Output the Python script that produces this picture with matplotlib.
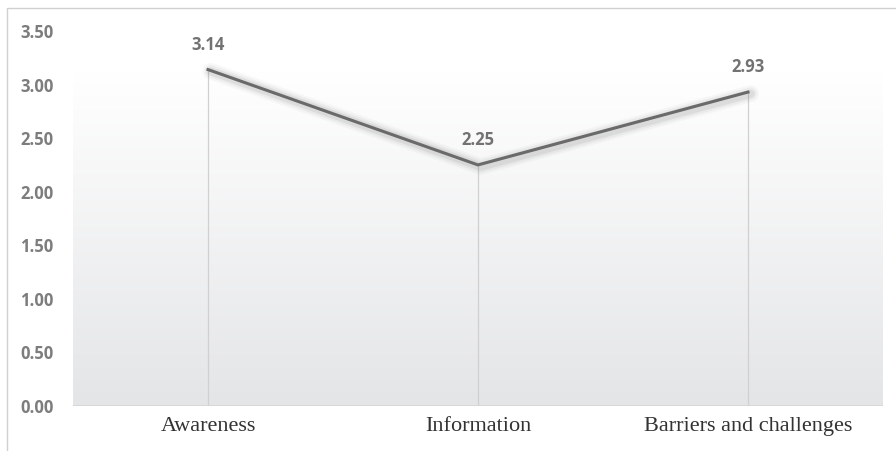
import numpy as np
import matplotlib.pyplot as plt
from matplotlib.patches import Rectangle

categories = ["Awareness", "Information", "Barriers and challenges"]
scores = [3.14, 2.25, 2.93]
yticks = [0.0, 0.5, 1.0, 1.5, 2.0, 2.5, 3.0, 3.5]

fig = plt.figure(figsize=(8.96, 4.51), dpi=100)
ax = fig.add_axes([73 / 896, 1 - 406 / 451, 810 / 896, 375 / 451])

x = np.arange(len(categories))
ax.set_xlim(-0.5, len(categories) - 0.5)

# gradient plot area, white at top to light grey at the baseline
grad = np.linspace(0, 1, 256).reshape(-1, 1)
top = np.array([1.0, 1.0, 1.0])
bot = np.array([0.894, 0.898, 0.906])
img = top + (bot - top) * grad
ax.imshow(img[:, None, :].repeat(2, axis=1), extent=(-0.5, 2.5, 0, 3.12),
          origin="upper", aspect="auto", zorder=0, interpolation="bilinear")
ax.set_ylim(0, 3.5)

# drop lines
for xi, v in zip(x, scores):
    ax.plot([xi, xi], [0, v], color="#d0d0d0", lw=0.9, zorder=1)

# soft shadow under the line
for w, a in [(12, 0.05), (9, 0.08), (6, 0.13)]:
    ax.plot(x + 0.01, np.array(scores) - 0.015, color="#7a7a7a", lw=w, alpha=a,
            solid_capstyle="round", solid_joinstyle="round", zorder=2)
ax.plot(x, scores, color="#6a6a6a", lw=2.2, solid_joinstyle="miter", zorder=3)

for xi, v in zip(x, scores):
    ax.text(xi, v + 0.15, f"{v:.2f}", ha="center", va="bottom", fontsize=12,
            fontweight="bold", color="#727272", family="Open Sans", zorder=4)

ax.axhline(0, color="#d5d5d5", lw=1.2, zorder=2)

ax.set_yticks(yticks)
ax.set_yticklabels([f"{t:.2f}" for t in yticks], fontsize=12, fontweight="bold",
                   color="#7d7d7d", family="Open Sans")
ax.set_xticks(x)
ax.set_xticklabels(categories, fontsize=16, color="#333333", family="Liberation Serif")
ax.tick_params(axis="both", length=0)
ax.tick_params(axis="y", pad=14)
ax.tick_params(axis="x", pad=8)
for s in ax.spines.values():
    s.set_visible(False)

# outer chart border
fig.patches.append(Rectangle((7 / 896, -0.01), 1.0, 1 - 8 / 451 + 0.01,
                             transform=fig.transFigure, fill=False,
                             edgecolor="#d0d0d0", lw=1.0))

fig.savefig("out.png", dpi=100)
